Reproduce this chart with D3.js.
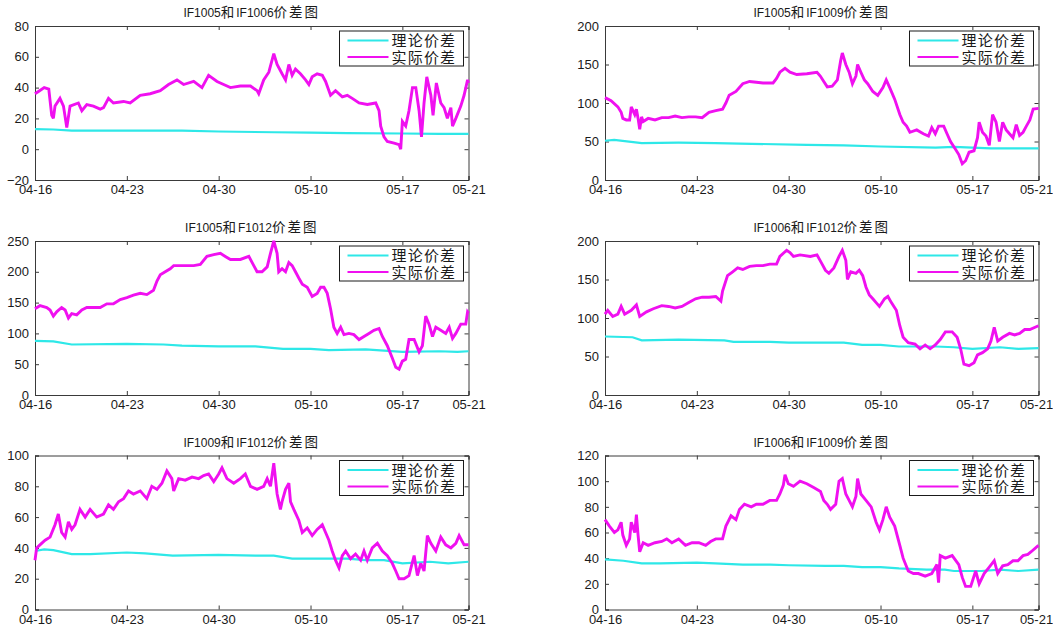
<!DOCTYPE html>
<html><head><meta charset="utf-8">
<script src="https://cdn.jsdelivr.net/npm/d3@7"></script>
<style>body{margin:0;background:#fff}svg{display:block}</style>
</head><body><svg id="c" width="1053" height="627"></svg>
<script>
// ---------- data ----------
const xTickValues = [0, 5, 10, 15, 20, 23.6];
const xTickLabels = ["04-16", "04-23", "04-30", "05-10", "05-17", "05-21"];
const xMax = 23.6;
const legendLabels = ["理论价差", "实际价差"];
const titles = ["IF1005和IF1006价差图", "IF1005和IF1009价差图", "IF1005和F1012价差图",
                "IF1006和IF1012价差图", "IF1009和IF1012价差图", "IF1006和IF1009价差图"];
const yDomains = [[-20, 80], [0, 200], [0, 250], [0, 200], [0, 100], [0, 120]];
const yTicks = [[-20, 0, 20, 40, 60, 80], [0, 50, 100, 150, 200], [0, 50, 100, 150, 200, 250],
                [0, 50, 100, 150, 200], [0, 20, 40, 60, 80, 100], [0, 20, 40, 60, 80, 100, 120]];

// [trading-day index, value]
const actual1 = [[0,36],[0.25,38],[0.5,40],[0.75,39],[0.91,22],[1,20],[1.09,28],[1.36,33],[1.55,28],[1.73,14],[1.91,28],[2.36,30],[2.55,25],[2.82,29],[3.18,28],[3.55,26],[3.73,27],[4,33],[4.27,30],[4.82,31],[5.18,30],[5.73,35],[6.27,36],[6.82,38],[7.27,42],[7.73,45],[8.09,42],[8.64,44],[9.09,40],[9.45,48],[9.91,44],[10.27,42],[10.64,40],[11.18,41],[11.73,41],[12.09,38],[12.18,36],[12.45,45],[12.73,50],[13,62],[13.18,55],[13.45,49],[13.64,45],[13.82,55],[14,48],[14.18,52],[14.45,49],[14.73,45],[14.91,42],[15.09,47],[15.36,49],[15.64,48],[15.82,44],[16.09,35],[16.36,38],[16.73,34],[17,35],[17.27,33],[17.64,30],[18.09,29],[18.55,30],[18.73,25],[18.82,15],[19,8],[19.18,5],[19.55,4],[19.82,3],[19.91,0],[20,18],[20.18,15],[20.36,25],[20.55,40],[20.73,40],[20.91,25],[21.04,8],[21.18,30],[21.33,47],[21.55,35],[21.67,22],[21.85,43],[22.09,30],[22.27,27],[22.45,20],[22.64,27],[22.73,15],[22.91,20],[23.18,28],[23.36,35],[23.55,45],[23.6,43]];
const theory1 = [[0,13],[1,12.8],[2,12],[5,12],[8,12],[10,11.5],[13,11],[15,10.8],[17,10.5],[20,10.2],[22,10],[23.6,10]];

const actual2 = [[0,107],[0.33,103],[0.7,95],[0.88,88],[0.97,80],[1.16,78],[1.34,78],[1.43,95],[1.62,85],[1.71,92],[1.8,80],[1.89,66],[1.99,82],[2.08,76],[2.35,80],[2.72,78],[3.09,81],[3.46,81],[3.82,83],[4.19,81],[4.56,82],[4.93,82],[5.29,81],[5.66,88],[6.03,90],[6.4,92],[6.58,100],[6.76,110],[7.13,115],[7.5,125],[7.87,128],[8.24,127],[8.6,126],[9.15,126],[9.34,132],[9.52,140],[9.8,145],[10.07,140],[10.44,137],[10.99,138],[11.54,140],[11.72,135],[11.91,128],[12.1,121],[12.37,122],[12.65,130],[12.83,155],[12.92,165],[13.11,150],[13.29,140],[13.47,125],[13.66,135],[13.75,150],[13.93,140],[14.12,130],[14.3,125],[14.58,115],[14.85,110],[15.13,120],[15.31,130],[15.5,120],[15.77,105],[16.05,85],[16.23,75],[16.42,70],[16.6,62],[16.97,65],[17.33,60],[17.61,57],[17.79,68],[17.98,60],[18.16,70],[18.44,70],[18.62,60],[18.81,50],[19.08,40],[19.26,33],[19.45,21],[19.63,25],[19.82,36],[20.09,38],[20.28,55],[20.37,75],[20.55,62],[20.74,57],[20.92,45],[21.1,85],[21.29,75],[21.47,50],[21.65,75],[21.84,65],[22.02,60],[22.21,55],[22.39,72],[22.57,58],[22.76,62],[22.94,70],[23.13,78],[23.31,92],[23.6,93]];
const theory2 = [[0,51],[0.5,52],[2,48],[4,48.5],[6,48],[8,47],[11,45.5],[13,45],[15,43.5],[18,42],[19,43],[21,41],[23.6,41]];

const actual3 = [[0,140],[0.27,145],[0.64,142],[0.82,138],[1,128],[1.18,135],[1.45,142],[1.64,138],[1.82,125],[2,132],[2.27,130],[2.55,138],[2.82,142],[3.18,142],[3.55,142],[3.91,148],[4.27,148],[4.64,155],[5,158],[5.36,162],[5.73,165],[6.09,163],[6.45,170],[6.64,185],[6.82,195],[7.09,200],[7.36,205],[7.55,210],[7.91,210],[8.27,210],[8.64,210],[9,212],[9.36,225],[9.73,228],[10.09,230],[10.36,225],[10.64,220],[11.18,220],[11.64,225],[11.91,210],[12.09,200],[12.36,200],[12.64,208],[12.82,230],[13,250],[13.18,230],[13.27,200],[13.45,205],[13.64,200],[13.82,215],[14,210],[14.18,200],[14.36,190],[14.55,180],[14.82,175],[15.09,160],[15.36,165],[15.55,175],[15.73,175],[15.91,165],[16.09,140],[16.27,110],[16.45,100],[16.64,110],[16.82,98],[17.09,100],[17.36,98],[17.64,90],[17.91,95],[18.18,100],[18.45,105],[18.73,108],[18.91,95],[19.18,80],[19.45,60],[19.64,45],[19.82,42],[20,55],[20.18,58],[20.36,90],[20.64,90],[20.91,70],[21.09,80],[21.27,128],[21.45,115],[21.64,95],[21.82,110],[22.09,105],[22.36,100],[22.55,110],[22.73,92],[22.91,100],[23.18,115],[23.45,115],[23.55,135],[23.6,133]];
const theory3 = [[0,88],[1,87],[2,82],[5,83],[7,82],[8,80],[10,79],[12,79],[13.5,75],[15,75],[16,73],[18,74],[20,70],[22,71],[23,70],[23.6,71]];

const actual4 = [[0,105],[0.15,110],[0.42,102],[0.7,105],[0.88,115],[1.07,105],[1.43,110],[1.71,117],[1.89,102],[2.26,108],[2.63,112],[3.09,116],[3.46,115],[3.82,113],[4.19,115],[4.56,120],[4.93,125],[5.29,127],[5.66,127],[6.03,128],[6.31,122],[6.4,135],[6.67,155],[6.95,160],[7.22,165],[7.5,163],[7.87,167],[8.24,168],[8.6,168],[8.97,170],[9.34,170],[9.52,180],[9.89,188],[10.07,185],[10.26,180],[10.62,182],[11.18,180],[11.54,182],[11.82,170],[12,162],[12.19,158],[12.46,165],[12.74,180],[12.92,188],[13.11,175],[13.2,150],[13.38,160],[13.66,158],[13.84,162],[14.03,155],[14.21,140],[14.39,130],[14.58,125],[14.76,120],[14.94,115],[15.22,125],[15.4,128],[15.59,120],[15.86,110],[16.05,90],[16.23,75],[16.51,68],[16.88,66],[17.15,60],[17.43,65],[17.7,60],[17.98,65],[18.25,72],[18.53,82],[18.9,82],[19.17,75],[19.36,60],[19.54,40],[19.82,38],[20.09,42],[20.28,52],[20.55,55],[20.83,60],[21.01,70],[21.19,88],[21.38,70],[21.65,75],[22.02,80],[22.3,78],[22.57,80],[22.85,85],[23.13,85],[23.6,90]];
const theory4 = [[0,76],[1.5,75],[2,71],[4,72],[6.5,71],[7,69],[9,69],[10,68],[12,68],[13,68],[14,65],[15,65],[16,63],[18,63],[19,62],[20,60],[21.5,62],[22.5,60],[23.6,61]];

const actual5 = [[0,32],[0.09,40],[0.27,42],[0.55,45],[0.82,47],[1.09,55],[1.27,62],[1.45,50],[1.64,47],[1.82,57],[2,52],[2.18,55],[2.45,65],[2.73,60],[3,65],[3.36,60],[3.73,62],[4,68],[4.27,65],[4.55,70],[4.82,72],[5.09,77],[5.36,75],[5.73,77],[6.09,72],[6.36,80],[6.64,78],[6.91,82],[7.18,90],[7.45,85],[7.55,77],[7.82,85],[8.18,84],[8.55,86],[8.91,85],[9.18,87],[9.45,88],[9.73,83],[10,88],[10.18,92],[10.45,85],[10.82,82],[11.18,85],[11.45,88],[11.73,80],[12.09,78],[12.45,80],[12.64,85],[12.82,80],[13,95],[13.18,75],[13.36,65],[13.45,70],[13.64,78],[13.82,82],[13.91,70],[14.09,65],[14.36,58],[14.55,50],[14.82,53],[15.09,48],[15.36,52],[15.64,55],[15.82,50],[16,45],[16.18,38],[16.36,32],[16.55,27],[16.73,35],[16.91,38],[17.18,33],[17.45,36],[17.73,32],[17.91,38],[18.09,32],[18.36,40],[18.64,43],[18.91,38],[19.18,35],[19.45,30],[19.64,25],[19.82,20],[20.09,20],[20.36,22],[20.64,35],[20.82,22],[21,30],[21.18,25],[21.36,48],[21.55,43],[21.82,38],[22.09,47],[22.36,42],[22.64,40],[22.91,43],[23.09,48],[23.36,42],[23.6,42]];
const theory5 = [[0,38],[0.5,39],[1,38.5],[2,36],[3,36],[5,37],[6,36.5],[7.5,35],[10,35.5],[12,35],[13,35],[14,33],[17,33],[18,32],[19,32],[20,30],[21.5,31],[22.5,30],[23.6,31]];

const actual6 = [[0,70],[0.24,65],[0.51,60],[0.7,62],[0.88,68],[0.97,58],[1.16,50],[1.34,55],[1.43,68],[1.62,60],[1.71,74],[1.8,58],[1.89,45],[2.08,52],[2.35,50],[2.72,52],[3.09,53],[3.36,55],[3.64,52],[4.01,55],[4.38,50],[4.74,52],[5.11,52],[5.48,50],[5.75,53],[6.03,55],[6.4,55],[6.58,65],[6.86,73],[7.13,70],[7.32,78],[7.59,82],[7.96,80],[8.24,82],[8.6,82],[8.97,85],[9.34,85],[9.52,90],[9.71,97],[9.8,105],[9.98,98],[10.26,96],[10.62,100],[10.99,98],[11.36,95],[11.73,92],[11.91,85],[12.1,82],[12.28,78],[12.56,82],[12.74,100],[12.92,102],[13.11,90],[13.29,85],[13.47,80],[13.66,88],[13.75,102],[13.93,90],[14.21,85],[14.49,80],[14.76,68],[14.94,62],[15.13,70],[15.31,80],[15.5,72],[15.77,65],[16.05,50],[16.23,40],[16.51,30],[16.79,28],[17.06,28],[17.43,26],[17.79,28],[18.07,35],[18.16,21],[18.25,42],[18.53,40],[18.9,42],[19.26,35],[19.45,25],[19.63,18],[19.91,18],[20.18,30],[20.37,20],[20.64,28],[20.92,33],[21.19,38],[21.38,28],[21.65,34],[21.93,35],[22.21,38],[22.48,38],[22.76,42],[23.02,43],[23.2,45],[23.6,50]];
const theory6 = [[0,39],[1,38],[2,36],[3,36],[5,36.5],[6,36],[7.5,35],[9,35],[10,34.5],[12,34],[13,34],[14,33],[15,33],[16,32],[17.5,31],[18.5,31],[19,30],[20.5,30],[21.5,31],[22.5,30],[23.6,31]];

const actualSeries = [actual1, actual2, actual3, actual4, actual5, actual6];
const theorySeries = [theory1, theory2, theory3, theory4, theory5, theory6];

// ---------- layout ----------
const colLeft = [35, 605], plotW = 433.5;
const rowTop = [26, 241, 455.5], plotH = 154;
const CYAN = "#2ee8e8", MAGENTA = "#f010f0";

const svg = d3.select("#c");
const font = "'Liberation Sans', Arial, sans-serif";
const cjk = "'Noto Sans CJK SC', sans-serif";

function addMixedText(sel, str, latinSize, cjkSize, cjkSpacing) {
  const runs = str.match(/[\u4e00-\u9fff]+|[^\u4e00-\u9fff]+/g);
  runs.forEach(r => {
    const isC = /[\u4e00-\u9fff]/.test(r);
    sel.append("tspan").text(r)
      .attr("font-family", isC ? cjk : font)
      .attr("font-size", isC ? cjkSize : latinSize)
      .attr("letter-spacing", isC ? cjkSpacing : 0);
  });
}

for (let i = 0; i < 6; i++) {
  const left = colLeft[i % 2], top = rowTop[Math.floor(i / 2)];
  const x = d3.scaleLinear().domain([0, xMax]).range([left, left + plotW]);
  const y = d3.scaleLinear().domain(yDomains[i]).range([top + plotH, top]);
  const g = svg.append("g");

  // axes (MATLAB style, ticks inside, box on)
  const tickLen = 4;
  const xb = d3.axisBottom(x).tickValues(xTickValues).tickSize(-tickLen).tickPadding(6)
    .tickFormat((d, k) => xTickLabels[k]);
  const gx = g.append("g").attr("transform", `translate(0,${top + plotH})`).call(xb);
  const xt = d3.axisTop(x).tickValues(xTickValues).tickSize(-tickLen).tickFormat("");
  const gxt = g.append("g").attr("transform", `translate(0,${top})`).call(xt);
  const yl = d3.axisLeft(y).tickValues(yTicks[i]).tickSize(-tickLen).tickPadding(6).tickFormat(d3.format("d"));
  const gy = g.append("g").attr("transform", `translate(${left},0)`).call(yl);
  const yr = d3.axisRight(y).tickValues(yTicks[i]).tickSize(-tickLen).tickFormat("");
  const gyr = g.append("g").attr("transform", `translate(${left + plotW},0)`).call(yr);
  [gx, gxt, gy, gyr].forEach(a => {
    a.select(".domain").attr("stroke", "#3a3a3a").attr("stroke-width", 1);
    a.selectAll(".tick line").attr("stroke", "#3a3a3a");
    a.selectAll("text").attr("font-family", font).attr("font-size", 13).attr("fill", "#1a1a1a");
  });
  gx.selectAll("text").attr("dy", "0.62em");
  if (i % 2 === 1) {
    gx.selectAll(".tick text").filter((d, k) => k === xTickValues.length - 1).attr("dx", -2.5);
  }

  // lines
  const line = d3.line().x(d => x(d[0])).y(d => y(d[1]));
  g.append("path").datum(theorySeries[i]).attr("d", line)
    .attr("fill", "none").attr("stroke", CYAN).attr("stroke-width", 2.2);
  g.append("path").datum(actualSeries[i]).attr("d", line)
    .attr("fill", "none").attr("stroke", MAGENTA).attr("stroke-width", 2.9)
    .attr("stroke-linejoin", "miter").attr("stroke-miterlimit", 3);

  // title
  const t = g.append("text").attr("x", left + plotW / 2).attr("y", top - 9)
    .attr("text-anchor", "middle").attr("fill", "#1a1a1a");
  addMixedText(t, titles[i], 12, 13.5, 2);

  // legend
  const lw = 124, lh = 35;
  const lx = left + plotW - 5 - lw, ly = top + 5;
  const lg = g.append("g");
  lg.append("rect").attr("x", lx).attr("y", ly).attr("width", lw).attr("height", lh)
    .attr("fill", "#fff").attr("stroke", "#1a1a1a").attr("stroke-width", 1);
  [CYAN, MAGENTA].forEach((c, k) => {
    const yy = ly + 9.5 + k * 16.5;
    lg.append("line").attr("x1", lx + 8).attr("x2", lx + 49).attr("y1", yy).attr("y2", yy)
      .attr("stroke", c).attr("stroke-width", 2);
    lg.append("text").attr("x", lx + 52).attr("y", yy + 5.5)
      .attr("font-family", cjk).attr("font-size", 15).attr("letter-spacing", 1.2)
      .attr("fill", "#1a1a1a").text(legendLabels[k]);
  });
}
</script>
</body></html>
